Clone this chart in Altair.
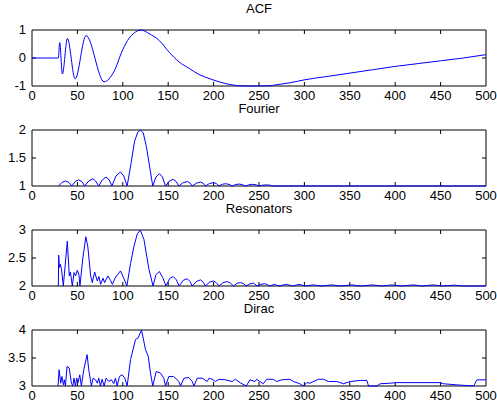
import altair as alt
import pandas as pd

x_ticks = [0, 50, 100, 150, 200, 250, 300, 350, 400, 450, 500]
x_ticks_inner = [50, 100, 150, 200, 250, 300, 350, 400, 450]
x_edges = [0, 500]

titles = ["ACF", "Fourier", "Resonators", "Dirac"]

acf_x = [0, 29, 30.5, 33.5, 39, 47.5, 59.5, 79.5, 90, 100, 107, 112, 120, 129, 140, 151, 162,
         173, 184, 195, 206, 217, 228, 239, 250, 262, 270, 285, 300, 325, 350, 375, 400,
         425, 450, 475, 500]
acf_y = [0, 0, 0.55, -0.57, 0.7, -0.75, 0.8, -0.85, -0.5, 0.3, 0.71, 0.88, 1.0, 0.87, 0.63, 0.21, -0.14,
         -0.37, -0.59, -0.73, -0.85, -0.94, -0.99, -1.0, -1.0, -0.99, -0.95, -0.88, -0.78, -0.66, -0.54, -0.42, -0.3,
         -0.2, -0.1, 0.0, 0.12]

fou_x = [29.4, 33, 36.8, 40.5, 44, 47.5, 51.5, 55, 58, 62.5, 67, 70, 73.5, 77.5, 81.6, 85, 88,
         92.5, 97.4, 101, 104.8, 109, 113, 116.5, 119.5, 122.5, 126, 130, 133, 136.5, 140.4,
         143.7, 147, 151, 155.5, 158.5, 161.8, 166, 171, 174, 176.5, 181, 185.7, 188.5, 191,
         195.5, 200, 203, 206, 209.5, 213, 217, 220.6, 224, 228, 231.5, 235, 239, 243, 247,
         250, 254, 258, 262, 265, 300, 350, 400, 450, 500]
fou_y = [1.0, 1.065, 1.09, 1.065, 1.0, 1.08, 1.11, 1.08, 1.0, 1.09, 1.13, 1.09, 1.0, 1.11, 1.16, 1.11, 1.0,
         1.18, 1.25, 1.18, 1.0, 1.4, 1.8, 1.96, 2.0, 1.95, 1.7, 1.3, 1.0, 1.16, 1.22,
         1.16, 1.0, 1.085, 1.12, 1.085, 1.0, 1.055, 1.08, 1.055, 1.0, 1.05, 1.07, 1.05, 1.0,
         1.045, 1.06, 1.045, 1.0, 1.03, 1.04, 1.03, 1.0, 1.025, 1.035, 1.025, 1.0, 1.02, 1.03, 1.02,
         1.0, 1.015, 1.02, 1.015, 1.0, 1.0, 1.0, 1.0, 1.0, 1.0]

res_x = [29.0, 29.4, 30.1, 31.2, 32.5, 34.5, 38.9, 41.1, 42.3, 44.4, 46.3, 48.0, 49.9, 51.7, 52.8,
         56.0, 59.3, 61.5, 64.6, 66.4, 69.0, 71.9, 73.7, 75.6, 78.2, 80.0, 83.5, 86.5, 88.5,
         91.5, 94.0, 97.5, 101.3, 104.5, 108.5, 112.3, 116.0, 119.3, 123.3, 128.8, 133.3,
         136.5, 140.2, 144.0, 147.5, 151.5, 155.5, 159.0, 162.0, 166.5, 171.0, 174.0, 176.5,
         181.0, 185.7, 188.5, 191.0, 195.5, 200.0, 203.0, 206.0, 210.5, 215.0, 218.5, 222.0,
         226.0, 230.0, 233.0, 236.0, 240.0, 244.0, 248.0, 252.0, 257.0, 262.0, 267.0, 272.0,
         280.0, 287.0, 294.0, 301.0, 310.0, 318.0, 330.0, 340.0, 352.0, 362.0, 375.0, 385.0,
         397.0, 407.0, 420.0, 430.0, 442.0, 452.0, 465.0, 475.0, 500.0]
res_y = [2.0, 2.55, 2.33, 2.39, 2.3, 2.0, 2.8, 2.18, 2.25, 2.0, 2.24, 2.18, 2.28, 2.2, 2.0,
         2.5, 2.88, 2.7, 2.18, 2.06, 2.25, 2.09, 2.17, 2.03, 2.14, 2.06, 2.18, 2.1, 2.03,
         2.14, 2.2, 2.27, 2.13, 2.0, 2.4, 2.71, 2.93, 3.0, 2.83, 2.3, 2.0,
         2.2, 2.26, 2.15, 2.0, 2.13, 2.17, 2.11, 2.0, 2.1, 2.13, 2.08, 2.0,
         2.08, 2.11, 2.07, 2.0, 2.07, 2.09, 2.06, 2.0, 2.06, 2.08, 2.05, 2.0,
         2.05, 2.06, 2.04, 2.0, 2.04, 2.05, 2.0, 2.03, 2.04, 2.0, 2.03, 2.0,
         2.03, 2.0, 2.03, 2.0, 2.02, 2.0, 2.02, 2.0, 2.02, 2.0, 2.02, 2.0,
         2.02, 2.0, 2.02, 2.0, 2.02, 2.0, 2.015, 2.0, 2.0]

dir_x = [28.7, 29.8, 31.6, 33.0, 34.6, 35.7, 36.8, 38.6, 41.0, 43.4, 44.9, 46.3, 47.8, 49.3, 50.7,
         52.6, 54.4, 57.0, 60.7, 62.5, 65.4, 67.3, 69.9, 72.0, 73.5, 75.4, 77.2, 79.4, 81.6,
         84.6, 87.5, 90.0, 91.9, 93.8, 96.3, 99.3, 102.2, 104.8, 108.5, 114.0, 116.9, 120.6,
         125.0, 128.0, 130.5, 133.0, 136.8, 141.5, 145.2, 147.0, 150.7, 156.0, 161.8, 163.6,
         167.3, 172.8, 176.5, 178.3, 182.0, 187.5, 193.0, 195.0, 198.5, 202.0, 206.0, 213.0,
         220.6, 224.0, 230.0, 236.0, 240.0, 245.6, 247.4, 251.0, 254.8, 258.5, 265.8, 269.5,
         275.0, 284.0, 287.9, 295.0, 299.0, 302.6, 306.0, 310.0, 315.4, 321.0, 326.5, 335.7,
         343.0, 350.4, 361.4, 368.8, 370.6, 379.8, 383.5, 394.5, 401.8, 449.6, 453.0, 468.0,
         486.4, 490.0, 500.0]
dir_y = [3.0, 3.29, 3.05, 3.17, 3.02, 3.11, 3.0, 3.35, 3.32, 3.05, 3.0, 3.14, 3.0, 3.14, 3.06,
         3.2, 3.0, 3.29, 3.56, 3.29, 3.0, 3.14, 3.11, 3.05, 3.14, 3.0, 3.12, 3.0, 3.14,
         3.08, 3.11, 3.04, 3.14, 3.0, 3.17, 3.2, 3.14, 3.0, 3.47, 3.83, 3.86, 4.0,
         3.65, 3.53, 3.23, 3.0, 3.26, 3.23, 3.14, 3.0, 3.17, 3.17, 3.08, 3.0,
         3.14, 3.15, 3.08, 3.0, 3.14, 3.14, 3.08, 3.14, 3.12, 3.08, 3.12, 3.11,
         3.08, 3.12, 3.05, 3.0, 3.11, 3.08, 3.12, 3.08, 3.04, 3.12, 3.12, 3.08,
         3.11, 3.12, 3.08, 3.04, 3.0, 3.06, 3.05, 3.08, 3.12, 3.12, 3.08, 3.08,
         3.04, 3.08, 3.1, 3.1, 3.0, 3.0, 3.04, 3.05, 3.06, 3.06, 3.04, 3.02,
         3.0, 3.11, 3.11]

y_domains = [[-1, 1], [1, 2], [2, 3], [3, 4]]
y_ticks = [[-1, 0, 1], [1, 1.5, 2], [2, 2.5, 3], [3, 3.5, 4]]

FONT = "Liberation Sans"
W, H = 454, 56
TK = 4
INK = "#000000"


def panel(title, xs, ys, ydom, yt, interp):
    df = pd.DataFrame({"x": xs, "y": ys})
    xscale = alt.Scale(domain=[0, 500], nice=False, zero=False)
    yscale = alt.Scale(domain=ydom, nice=False, zero=False)
    xq = lambda: alt.X("x:Q", scale=xscale, axis=None)
    yq = lambda: alt.Y("y:Q", scale=yscale, axis=None)
    rule = dict(color=INK, strokeWidth=1)

    vframe = alt.Chart(pd.DataFrame({"x": x_edges})).mark_rule(**rule).encode(
        x=xq(), y=alt.value(0), y2=alt.value(H))
    hframe = alt.Chart(pd.DataFrame({"y": ydom})).mark_rule(**rule).encode(
        y=yq(), x=alt.value(0), x2=alt.value(W))
    xtdf = pd.DataFrame({"x": x_ticks_inner})
    xt_bot = alt.Chart(xtdf).mark_rule(**rule).encode(
        x=xq(), y=alt.value(H - TK), y2=alt.value(H))
    xt_top = alt.Chart(xtdf).mark_rule(**rule).encode(
        x=xq(), y=alt.value(0), y2=alt.value(TK))
    ytdf = pd.DataFrame({"y": [yt[1]]})
    yt_left = alt.Chart(ytdf).mark_rule(**rule).encode(
        y=yq(), x=alt.value(0), x2=alt.value(TK))
    yt_right = alt.Chart(ytdf).mark_rule(**rule).encode(
        y=yq(), x=alt.value(W - TK), x2=alt.value(W))

    xlab_df = pd.DataFrame({"x": x_ticks, "t": [f"{v:g}" for v in x_ticks]})
    xlabels = alt.Chart(xlab_df).mark_text(
        font=FONT, fontSize=13, color="black", align="center", baseline="top"
    ).encode(x=xq(), y=alt.value(H + 4), text="t:N")
    ylab_df = pd.DataFrame({"y": yt, "t": [f"{v:g}" for v in yt]})
    ylabels = alt.Chart(ylab_df).mark_text(
        font=FONT, fontSize=13, color="black", align="right", baseline="middle"
    ).encode(y=yq(), x=alt.value(-6), text="t:N")

    line = alt.Chart(df).mark_line(color="#0000ff", strokeWidth=1, interpolate=interp).encode(
        x=xq(), y=yq())
    return alt.layer(vframe, hframe, xt_bot, xt_top, yt_left, yt_right, xlabels, ylabels,
                     line).properties(
        width=W, height=H,
        title=alt.TitleParams(title, font=FONT, fontSize=13, fontWeight="normal", color="black",
                              anchor="middle", offset=8),
    )


series = [(acf_x, acf_y, "monotone"), (fou_x, fou_y, "linear"), (res_x, res_y, "linear"),
          (dir_x, dir_y, "linear")]

panels = [panel(t, s[0], s[1], d, yt, s[2]) for t, s, d, yt in zip(titles, series, y_domains, y_ticks)]

chart = alt.vconcat(*panels, spacing=44, bounds="flush").properties(
    padding={"left": 7, "top": 3, "right": 0, "bottom": 0}
).configure(
    background="white",
    view=alt.ViewConfig(stroke=None),
)

chart.save("out.html", embed_options={"renderer": "svg", "actions": False})
